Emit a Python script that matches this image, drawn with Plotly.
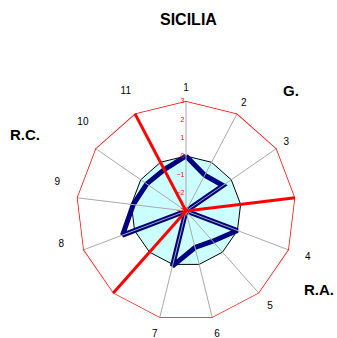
import plotly.graph_objects as go

NB = "\u00a0"
# --- data ---
categories = ["1", "2", "3", " ", "4", "5", "6", "7", "  ", "8", "9", "10", "11"]
category_text = ["1", "2", "3", "", NB * 3 + "4", NB + "5", "6", "7", "",
                 "8" + NB * 4 + "<br> <br> <br> ", "9" + NB * 3 + "<br> <br> ",
                 "10<br> <br> ", NB * 4 + "11<br> "]
sicilia = [0, -0.8, -0.55, -3, 0, -0.8, -0.95, 0.1, -3, 0.7, -0.1, -0.4, -0.45]
reference_level = [0] * len(categories)
outer_level = [3] * len(categories)
separators = [" ", "  ", "11"]
radial_ticks = [-3, -2, -1, 0, 1, 2, 3]
title_text = "SICILIA"
group_labels = ["G.", "R.A.", "R.C."]

def closed(vals):
    return list(vals) + [vals[0]]

fig = go.Figure()

fig.add_trace(go.Scatterpolar(
    r=closed(reference_level), theta=closed(categories), mode="lines",
    fill="toself", fillcolor="#CCFFFF",
    line=dict(color="black", width=1), hoverinfo="skip", showlegend=False))

fig.add_trace(go.Scatterpolar(
    r=closed(sicilia), theta=closed(categories), mode="lines",
    line=dict(color="#000080", width=5), showlegend=False))

sr, st = [], []
for c in categories:
    sr += [-3, 3, None]
    st += [c, c, None]
fig.add_trace(go.Scatterpolar(r=sr, theta=st, mode="lines",
                              line=dict(color="#A8A8A8", width=1),
                              hoverinfo="skip", showlegend=False))

fig.add_trace(go.Scatterpolar(
    r=closed(outer_level), theta=closed(categories), mode="lines",
    line=dict(color="#FF0000", width=1.5), hoverinfo="skip", showlegend=False))

rr, rt = [], []
for c in separators:
    rr += [-3, 3, None]
    rt += [c, c, None]
fig.add_trace(go.Scatterpolar(r=rr, theta=rt, mode="lines",
                              line=dict(color="#FF0000", width=3),
                              hoverinfo="skip", showlegend=False))

W, H = 337, 338
cx, cy, R = 186, 211, 110

def px(x):
    return x / W

def py(y):
    return 1 - y / H

fig.update_layout(
    width=W, height=H,
    margin=dict(l=0, r=0, t=0, b=0),
    paper_bgcolor="white", plot_bgcolor="white",
    font=dict(family="Liberation Sans, Arial, sans-serif", color="black"),
    polar=dict(
        domain=dict(x=[(cx - R) / W, (cx + R) / W],
                    y=[(H - cy - R) / H, (H - cy + R) / H]),
        bgcolor="rgba(0,0,0,0)",
        gridshape="linear",
        angularaxis=dict(type="category", categoryarray=categories,
                         direction="clockwise", rotation=90,
                         tickmode="array", tickvals=categories, ticktext=category_text,
                         showgrid=False, showline=False,
                         ticks="outside", ticklen=6, tickcolor="rgba(0,0,0,0)",
                         tickfont=dict(size=10, color="black")),
        radialaxis=dict(range=[-3, 3], angle=90, showgrid=False, showline=False,
                        tickvals=radial_ticks, ticks="", tickangle=90,
                        tickfont=dict(size=7, color="#FF0000"),
                        side="counterclockwise"),
    ),
    annotations=[
        dict(text="<b>%s</b>" % title_text, x=px(188), y=py(20),
             xanchor="center", yanchor="middle", xref="paper", yref="paper",
             showarrow=False, font=dict(size=16, color="black")),
        dict(text="<b>%s</b>" % group_labels[0], x=px(291), y=py(90),
             xanchor="center", yanchor="middle", xref="paper", yref="paper",
             showarrow=False, font=dict(size=15, color="black")),
        dict(text="<b>%s</b>" % group_labels[1], x=px(319), y=py(289),
             xanchor="center", yanchor="middle", xref="paper", yref="paper",
             showarrow=False, font=dict(size=15, color="black")),
        dict(text="<b>%s</b>" % group_labels[2], x=px(25), y=py(135),
             xanchor="center", yanchor="middle", xref="paper", yref="paper",
             showarrow=False, font=dict(size=15, color="black")),
    ],
)

fig.write_html("out.html", config={"displayModeBar": False},
               post_script="document.body.style.margin='0';document.body.style.overflow='hidden';")
